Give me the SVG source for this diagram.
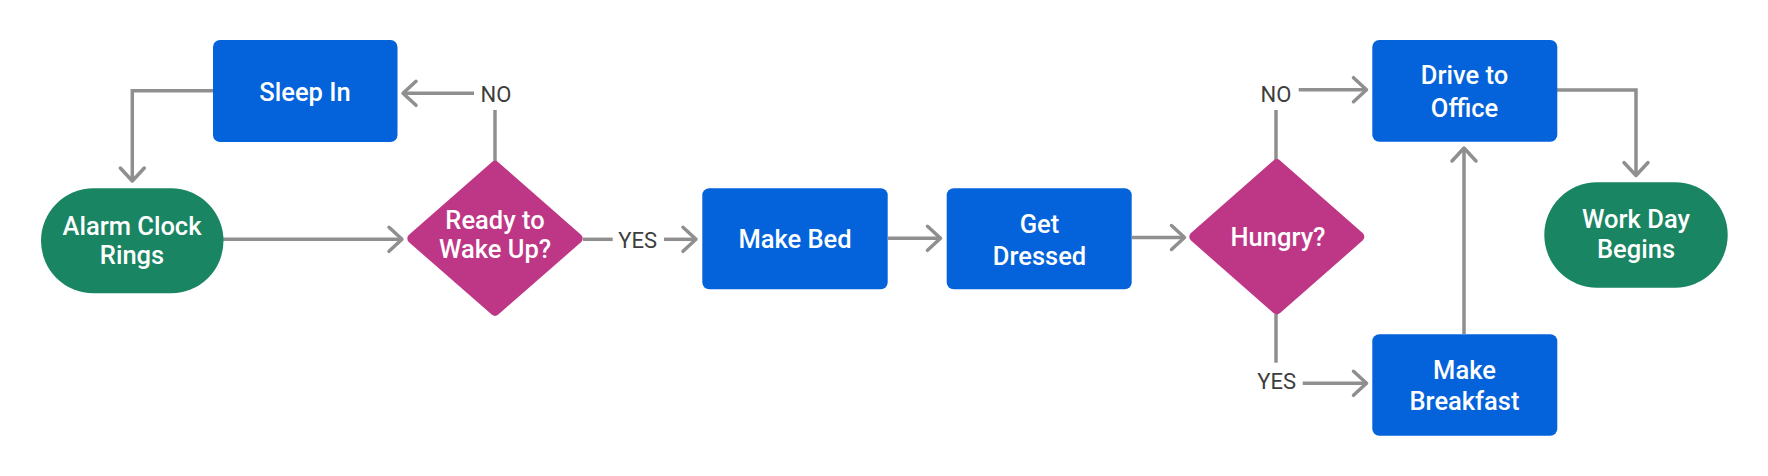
<svg xmlns="http://www.w3.org/2000/svg" width="1768" height="476" viewBox="0 0 1768 476">
  <style>
    .proc { fill: #0463DB; }
    .term { fill: #198562; }
    .dec { fill: #BE3686; stroke: #BE3686; stroke-width: 10; stroke-linejoin: round; }
    .nt { fill: #FFFFFF; font-family: Roboto, "Liberation Sans", sans-serif; font-size: 25.5px; font-weight: 500; text-anchor: middle; }
    .lbl { fill: #3D3D3D; font-family: Roboto, "Liberation Sans", sans-serif; font-size: 22px; font-weight: 400; text-anchor: middle; }
    .conn { fill: none; stroke: #8F8F8F; stroke-width: 3.5; }
    .arr { marker-end: url(#arrow); }
  </style>
  <defs>
    <marker id="arrow" markerUnits="userSpaceOnUse" markerWidth="40" markerHeight="40" viewBox="-20 -20 40 40" refX="0" refY="0" orient="auto" overflow="visible">
      <path d="M-13,-12 L0,0 L-13,12" fill="none" stroke="#8F8F8F" stroke-width="3.5" stroke-linecap="round" stroke-linejoin="round"/>
    </marker>
  </defs>
  <rect width="1768" height="476" fill="#FFFFFF"/>

  <g id="connectors">
    <path class="conn arr" d="M213,90.7 H132.3 V181"/>
    <path class="conn" d="M495,162 V110"/>
    <path class="conn arr" d="M474,93.3 H403"/>
    <path class="conn arr" d="M223,239.3 H402"/>
    <path class="conn" d="M583,239.3 H612.7"/>
    <path class="conn arr" d="M664,239.3 H696"/>
    <path class="conn arr" d="M888,238.3 H940.5"/>
    <path class="conn arr" d="M1132,237.5 H1184.5"/>
    <path class="conn" d="M1276,160 V110"/>
    <path class="conn arr" d="M1298.7,89.7 H1366.5"/>
    <path class="conn" d="M1276,314 V362.7"/>
    <path class="conn arr" d="M1302.7,383.3 H1366.5"/>
    <path class="conn arr" d="M1464,334 V148"/>
    <path class="conn arr" d="M1557,90 H1636 V175.5"/>
  </g>

  <g id="label-no-1"><text class="lbl" x="496" y="102.3">NO</text></g>
  <g id="label-yes-1"><text class="lbl" x="637.7" y="248.3">YES</text></g>
  <g id="label-no-2"><text class="lbl" x="1276" y="102.3">NO</text></g>
  <g id="label-yes-2"><text class="lbl" x="1276.7" y="389">YES</text></g>

  <g id="sleep-in">
    <rect class="proc" x="213" y="40" width="184.5" height="102" rx="7"/>
    <text class="nt" x="305" y="101">Sleep In</text>
  </g>

  <g id="alarm-clock">
    <rect class="term" x="41" y="188.3" width="182.5" height="105" rx="52.5"/>
    <text class="nt" x="132" y="235">Alarm Clock</text>
    <text class="nt" x="132" y="264">Rings</text>
  </g>

  <g id="ready-to-wake">
    <polygon class="dec" points="412.3,238.5 495,166 577.7,238.5 495,310.7"/>
    <text class="nt" x="495" y="229">Ready to</text>
    <text class="nt" x="495" y="257.7">Wake Up?</text>
  </g>

  <g id="make-bed">
    <rect class="proc" x="702.3" y="188.3" width="185.4" height="101" rx="7"/>
    <text class="nt" x="795" y="248.3">Make Bed</text>
  </g>

  <g id="get-dressed">
    <rect class="proc" x="946.7" y="188.3" width="185" height="101" rx="7"/>
    <text class="nt" x="1039.5" y="232.7">Get</text>
    <text class="nt" x="1039.5" y="265">Dressed</text>
  </g>

  <g id="hungry">
    <polygon class="dec" points="1194.3,236.8 1276.8,164.3 1359.3,236.8 1276.8,309.3"/>
    <text class="nt" x="1278" y="245.7">Hungry?</text>
  </g>

  <g id="drive-to-office">
    <rect class="proc" x="1372.3" y="40" width="185" height="101.7" rx="7"/>
    <text class="nt" x="1464.5" y="84.3">Drive to</text>
    <text class="nt" x="1464.5" y="116.7">Office</text>
  </g>

  <g id="make-breakfast">
    <rect class="proc" x="1372.3" y="334.3" width="185" height="101.4" rx="7"/>
    <text class="nt" x="1464.5" y="379">Make</text>
    <text class="nt" x="1464.5" y="410">Breakfast</text>
  </g>

  <g id="work-day-begins">
    <rect class="term" x="1544.3" y="182.3" width="183.4" height="105.4" rx="52.7"/>
    <text class="nt" x="1636" y="228.3">Work Day</text>
    <text class="nt" x="1636" y="258.3">Begins</text>
  </g>
</svg>
